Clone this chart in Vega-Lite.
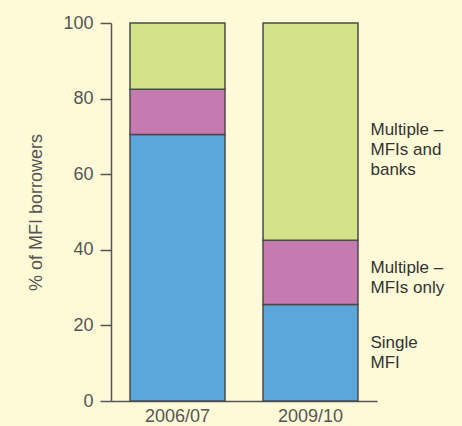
{
  "$schema": "https://vega.github.io/schema/vega-lite/v6.json",
  "width": 266,
  "height": 378,
  "autosize": {"type": "none"},
  "padding": {"left": 111, "top": 23, "right": 85, "bottom": 25},
  "background": "#fefad8",
  "config": {"view": {"stroke": null}, "font": "Liberation Sans"},
  "data": {
    "values": [
      {"year": "2006/07", "category": "Single MFI", "value": 70.5, "label": "Single\nMFI"},
      {"year": "2006/07", "category": "Multiple – MFIs only", "value": 12, "label": "Multiple –\nMFIs only"},
      {"year": "2006/07", "category": "Multiple – MFIs and banks", "value": 17.5, "label": "Multiple –\nMFIs and\nbanks"},
      {"year": "2009/10", "category": "Single MFI", "value": 25.5, "label": "Single\nMFI"},
      {"year": "2009/10", "category": "Multiple – MFIs only", "value": 17, "label": "Multiple –\nMFIs only"},
      {"year": "2009/10", "category": "Multiple – MFIs and banks", "value": 57.5, "label": "Multiple –\nMFIs and\nbanks"}
    ]
  },
  "transform": [
    {"stack": "value", "groupby": ["year"], "sort": [{"field": "category", "order": "descending"}], "as": ["v0", "v1"]},
    {"calculate": "(datum.v0 + datum.v1) / 2", "as": "mid"}
  ],
  "layer": [
    {
      "mark": {"type": "bar", "stroke": "#4a4a4a", "strokeWidth": 1.5},
      "encoding": {
        "x": {
          "field": "year", "type": "nominal",
          "scale": {"paddingInner": 0.286, "paddingOuter": 0.143},
          "axis": {"title": null, "labelAngle": 0, "ticks": false, "domainColor": "#555555", "domainWidth": 1.5, "labelFontSize": 18, "labelColor": "#555555", "labelPadding": 6}
        },
        "y": {
          "field": "v0", "type": "quantitative",
          "scale": {"domain": [0, 100]},
          "axis": {
            "title": "% of MFI borrowers", "titleFontSize": 18, "titleColor": "#555555", "titleFontWeight": "normal", "titlePadding": 17,
            "values": [0, 10, 20, 30, 40, 50, 60, 70, 80, 90, 100],
            "labelExpr": "datum.value % 20 === 0 ? datum.label : ''",
            "tickSize": 11, "tickColor": "#555555", "tickWidth": 1.5, "labelPadding": 7,
            "labelFontSize": 18, "labelColor": "#555555", "grid": false,
            "domainColor": "#555555", "domainWidth": 1.5
          }
        },
        "y2": {"field": "v1"},
        "color": {
          "field": "category", "type": "nominal",
          "scale": {"domain": ["Single MFI", "Multiple – MFIs only", "Multiple – MFIs and banks"], "range": ["#5ba6db", "#c57bb2", "#d4e28a"]},
          "legend": null
        }
      }
    },
    {
      "transform": [{"filter": "datum.year === '2009/10' && datum.category === 'Single MFI'"}],
      "mark": {"type": "text", "align": "left", "baseline": "middle", "dx": 60, "dy": -10, "fontSize": 17, "lineHeight": 20, "lineBreak": "\n", "color": "#333333"},
      "encoding": {"x": {"field": "year", "type": "nominal"}, "y": {"field": "mid", "type": "quantitative"}, "text": {"field": "label"}}
    },
    {
      "transform": [{"filter": "datum.year === '2009/10' && datum.category === 'Multiple – MFIs only'"}],
      "mark": {"type": "text", "align": "left", "baseline": "middle", "dx": 60, "dy": -4, "fontSize": 17, "lineHeight": 20, "lineBreak": "\n", "color": "#333333"},
      "encoding": {"x": {"field": "year", "type": "nominal"}, "y": {"field": "mid", "type": "quantitative"}, "text": {"field": "label"}}
    },
    {
      "transform": [{"filter": "datum.year === '2009/10' && datum.category === 'Multiple – MFIs and banks'"}],
      "mark": {"type": "text", "align": "left", "baseline": "middle", "dx": 60, "dy": -2, "fontSize": 17, "lineHeight": 20, "lineBreak": "\n", "color": "#333333"},
      "encoding": {"x": {"field": "year", "type": "nominal"}, "y": {"field": "mid", "type": "quantitative"}, "text": {"field": "label"}}
    }
  ]
}
